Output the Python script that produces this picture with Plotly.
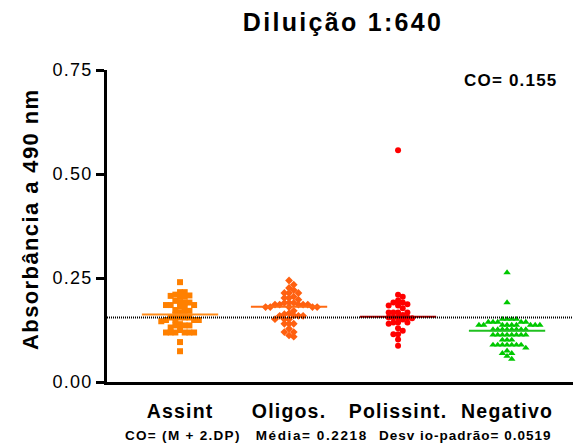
import plotly.graph_objects as go

# Absorbance readings (490 nm) per group, dilution 1:640
grupos = ["Assint", "Oligos.", "Polissint.", "Negativo"]

assint = [0.240, 0.216, 0.216, 0.210, 0.207, 0.205, 0.205, 0.208, 0.195,
          0.191, 0.191, 0.192, 0.185, 0.185, 0.185, 0.181, 0.178, 0.173,
          0.171, 0.167, 0.167, 0.162, 0.155, 0.155, 0.155, 0.155, 0.149,
          0.149, 0.149, 0.149, 0.146, 0.139, 0.136, 0.136, 0.136, 0.131,
          0.125, 0.119, 0.119, 0.119, 0.119, 0.119, 0.119, 0.096, 0.074]

oligos = [0.244, 0.234, 0.226, 0.221, 0.214, 0.214, 0.214, 0.205, 0.202,
          0.202, 0.198, 0.191, 0.190, 0.190, 0.186, 0.186, 0.186, 0.186,
          0.186, 0.180, 0.180, 0.180, 0.180, 0.180, 0.171, 0.163, 0.159,
          0.159, 0.159, 0.160, 0.165, 0.151, 0.151, 0.151, 0.140, 0.140,
          0.140, 0.128, 0.120, 0.120, 0.112, 0.109]

polissint = [0.557, 0.210, 0.205, 0.196, 0.191, 0.191, 0.184, 0.184, 0.187,
             0.177, 0.167, 0.167, 0.167, 0.167, 0.161, 0.155, 0.155, 0.155,
             0.150, 0.153, 0.155, 0.143, 0.143, 0.143, 0.140, 0.129, 0.123,
             0.115, 0.115, 0.102, 0.087]

negativo = [0.263, 0.191, 0.151, 0.151, 0.151, 0.151, 0.144, 0.144, 0.144,
            0.144, 0.144, 0.137, 0.137, 0.137, 0.137, 0.137, 0.137, 0.137,
            0.137, 0.137, 0.126, 0.126, 0.126, 0.126, 0.126, 0.126, 0.126,
            0.126, 0.113, 0.113, 0.113, 0.113, 0.113, 0.113, 0.113, 0.113,
            0.101, 0.101, 0.101, 0.089, 0.089, 0.089, 0.089, 0.089, 0.089,
            0.089, 0.082, 0.075, 0.069, 0.069, 0.062, 0.055]

# group central lines
linha_central = [0.162, 0.181, 0.157, 0.123]

cut_off = 0.155
media = 0.2218
desvio = 0.0519

valores = [assint, oligos, polissint, negativo]
simbolos = ["square", "diamond", "circle", "triangle-up"]
cores = ["#FF8000", "#FF6010", "#FF0000", "#00C800"]
cores_linha = ["#FF8C1A", "#FF6A13", "#B00000", "#20C020"]


def enxame(vals, passo=0.043, dmin=0.0105):
    """Deterministic column-scatter offsets: each point takes the slot
    nearest the centre that does not collide with an earlier point."""
    ordem = sorted(range(len(vals)), key=lambda i: -vals[i])
    ocupado = {}
    offs = [0.0] * len(vals)
    for i in ordem:
        v = vals[i]
        k = 0
        while True:
            for s in ([0] if k == 0 else [k, -k]):
                if all(abs(v - w) >= dmin for w in ocupado.get(s, [])):
                    ocupado.setdefault(s, []).append(v)
                    offs[i] = s * passo
                    break
            else:
                k += 1
                continue
            break
    return offs


def esp(txt, px, bold=True):
    """Letter-spaced text span."""
    s = f'<span style="letter-spacing:{px}px">{txt}</span>'
    return f"<b>{s}</b>" if bold else s


fig = go.Figure()

for g, (vals, sim, cor) in enumerate(zip(valores, simbolos, cores)):
    offs = enxame(vals)
    fig.add_trace(go.Scatter(
        x=[g + o for o in offs], y=vals, mode="markers",
        marker=dict(symbol=sim, size=6 if sim != "triangle-up" else 6.5,
                    color=cor, line=dict(width=0)),
        showlegend=False, cliponaxis=False))

for g, (m, cor) in enumerate(zip(linha_central, cores_linha)):
    fig.add_trace(go.Scatter(
        x=[g - 0.35, g + 0.35], y=[m, m], mode="lines",
        line=dict(color=cor, width=2), showlegend=False))

# cut-off line across the whole plot
fig.add_shape(type="line", xref="paper", x0=0, x1=1, yref="y",
              y0=cut_off, y1=cut_off,
              line=dict(color="black", width=2, dash="1px,1px"))

fonte = "Arial, 'Liberation Sans', sans-serif"
H = 312.0  # plot height in px
W = 466.0  # plot width in px

fig.add_annotation(text=esp(f"CO= {cut_off:.3f}", 1.2), xref="paper",
                   yref="paper", x=(511 - 107) / W, y=(382 - 80) / H,
                   showarrow=False, xanchor="center", yanchor="middle",
                   font=dict(family=fonte, size=17, color="black"))

rodape = (esp("CO= (M + 2.DP)", 1.3)
          + "&nbsp;&nbsp;&nbsp;&nbsp;"
          + esp(f"Média= {media:.4f}", 1.6)
          + "&nbsp;&nbsp;&nbsp;"
          + esp(f"Desv io-padrão= {desvio:.4f}", 1.0))
fig.add_annotation(text=rodape, xref="paper", yref="paper",
                   x=(338 - 107) / W, y=-(435 - 382) / H, showarrow=False,
                   xanchor="center", yanchor="middle",
                   font=dict(family=fonte, size=13.5, color="black"))

fig.add_annotation(text=esp("Absorbância a 490 nm", 1.4), textangle=-90,
                   xref="paper", yref="paper",
                   x=-(107 - 30) / W, y=(382 - 219) / H, showarrow=False,
                   xanchor="center", yanchor="middle",
                   font=dict(family=fonte, size=22, color="black"))

fig.update_layout(
    width=573, height=444,
    margin=dict(l=107, r=0, t=70, b=62),
    paper_bgcolor="white", plot_bgcolor="white",
    font=dict(family=fonte, color="black"),
    title=dict(text=esp("Diluição 1:640", 2.3), x=343 / 573,
               xanchor="center", y=1 - 22 / 444, yanchor="middle",
               font=dict(family=fonte, size=25, color="black")),
    xaxis=dict(range=[-0.67, 3.605], tickmode="array",
               tickvals=list(range(len(grupos))),
               ticktext=[esp(t, 1.2) for t in grupos],
               tickfont=dict(family=fonte, size=19.5, color="black"),
               showgrid=False, zeroline=False, showline=True,
               linecolor="black", linewidth=3, ticks="",
               ticklabelstandoff=10),
    yaxis=dict(range=[0, 0.75], tickmode="array",
               tickvals=[0, 0.25, 0.5, 0.75],
               ticktext=[esp(t, 1.2, bold=False)
                         for t in ["0.00", "0.25", "0.50", "0.75"]],
               tickfont=dict(family=fonte, size=18, color="black"),
               showgrid=False, zeroline=False, showline=True,
               linecolor="black", linewidth=3, ticks="outside",
               ticklen=8, tickwidth=3, tickcolor="black"),
)

fig.write_html("out.html")
